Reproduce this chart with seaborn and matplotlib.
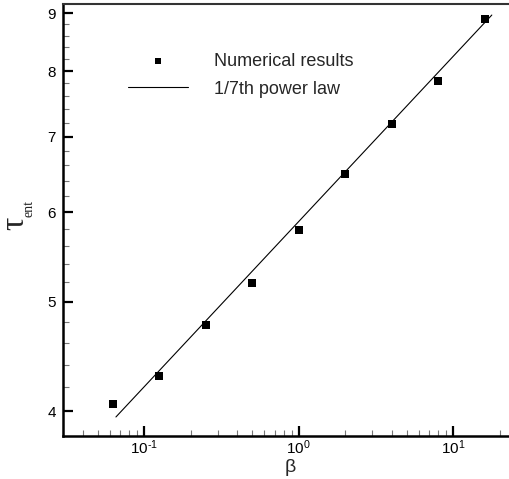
import numpy as np
import pandas as pd
import seaborn as sns
import matplotlib
matplotlib.use("Agg")
import matplotlib.pyplot as plt
from matplotlib.ticker import FixedLocator, LogLocator, FuncFormatter, NullFormatter

# ---- data ----
beta = [0.0625, 0.125, 0.25, 0.5, 1.0, 2.0, 4.0, 8.0, 16.0]
tau = [4.06, 4.30, 4.77, 5.19, 5.79, 6.49, 7.18, 7.84, 8.90]
law_beta = [0.0656, 17.8]
law_tau = [3.954, 8.966]
y_major = [4, 5, 6, 7, 8, 9]
y_minor = [4.2, 4.4, 4.6, 4.8, 5.2, 5.4, 5.6, 5.8, 6.2, 6.4, 6.6, 6.8,
           7.2, 7.4, 7.6, 7.8, 8.2, 8.4, 8.6, 8.8, 9.0]

sns.set_theme(style="ticks")
plt.rcParams["font.family"] = ["Liberation Sans", "DejaVu Sans"]
plt.rcParams["axes.unicode_minus"] = False

fig = plt.figure(figsize=(5.09, 4.79), dpi=100)
ax = fig.add_axes([63 / 509, (479 - 435.7) / 479, (509 - 63) / 509, (435.7 - 4) / 479])

pts = pd.DataFrame({"beta": beta, "tau": tau})
law = pd.DataFrame({"beta": law_beta, "tau": law_tau})

sns.scatterplot(data=pts, x="beta", y="tau", marker="s", s=26, color="black",
                linewidth=0, ax=ax, label="Numerical results", zorder=3)
sns.lineplot(data=law, x="beta", y="tau", color="black", linewidth=0.8,
             ax=ax, label="1/7th power law")

ax.set_xscale("log")
ax.set_yscale("log")
ax.set_xlim(0.0298, 23)
ax.set_ylim(3.806, 9.17)

ax.xaxis.set_major_locator(LogLocator(base=10))
ax.xaxis.set_minor_locator(LogLocator(base=10, subs=np.arange(2, 10)))
ax.xaxis.set_major_formatter(FuncFormatter(
    lambda v, p: r"$\mathregular{10^{%s}}$" % ("%d" % int(round(np.log10(v)))).replace("-", "\u2010")))
ax.xaxis.set_minor_formatter(NullFormatter())

ax.yaxis.set_major_locator(FixedLocator(y_major))
ax.yaxis.set_minor_locator(FixedLocator(y_minor))
ax.yaxis.set_major_formatter(FuncFormatter(lambda v, p: "%d" % v))
ax.yaxis.set_minor_formatter(NullFormatter())

ax.tick_params(which="major", direction="in", length=7, width=1.6, color="black",
               labelsize=11, pad=5, labelcolor="black")
ax.tick_params(axis="x", which="major", pad=2)
ax.tick_params(which="minor", direction="in", length=4, width=0.8, color="#777777")
ax.tick_params(top=False, right=False, which="both")

for s in ["left", "bottom"]:
    ax.spines[s].set_linewidth(1.8)
    ax.spines[s].set_color("black")
ax.spines["top"].set_linewidth(1.5)
ax.spines["top"].set_color("#333333")
ax.spines["right"].set_visible(False)

ax.set_xlabel("β", fontsize=14, fontfamily="Liberation Sans")
ax.xaxis.set_label_coords(0.509, -0.054)

ax.set_ylabel("τ", fontsize=24, fontfamily="Liberation Serif", rotation=90)
ax.yaxis.set_label_coords(-0.1065, 0.4915)
ax.yaxis.label.set_verticalalignment("center")
ax.yaxis.label.set_horizontalalignment("center")
ax.text(-0.077, 0.526, "ent", transform=ax.transAxes, rotation=90,
        fontsize=10, fontfamily="Liberation Serif", ha="center", va="center")

h, l = ax.get_legend_handles_labels()
order = [l.index("Numerical results"), l.index("1/7th power law")]
leg = ax.legend([h[i] for i in order], [l[i] for i in order],
                loc="upper left", bbox_to_anchor=(0.1457, 0.8874), frameon=False,
                fontsize=13, handlelength=3.32, handletextpad=1.44,
                labelspacing=0.62, borderpad=0, borderaxespad=0, markerscale=0.75)

fig.savefig("out.png", dpi=100)
